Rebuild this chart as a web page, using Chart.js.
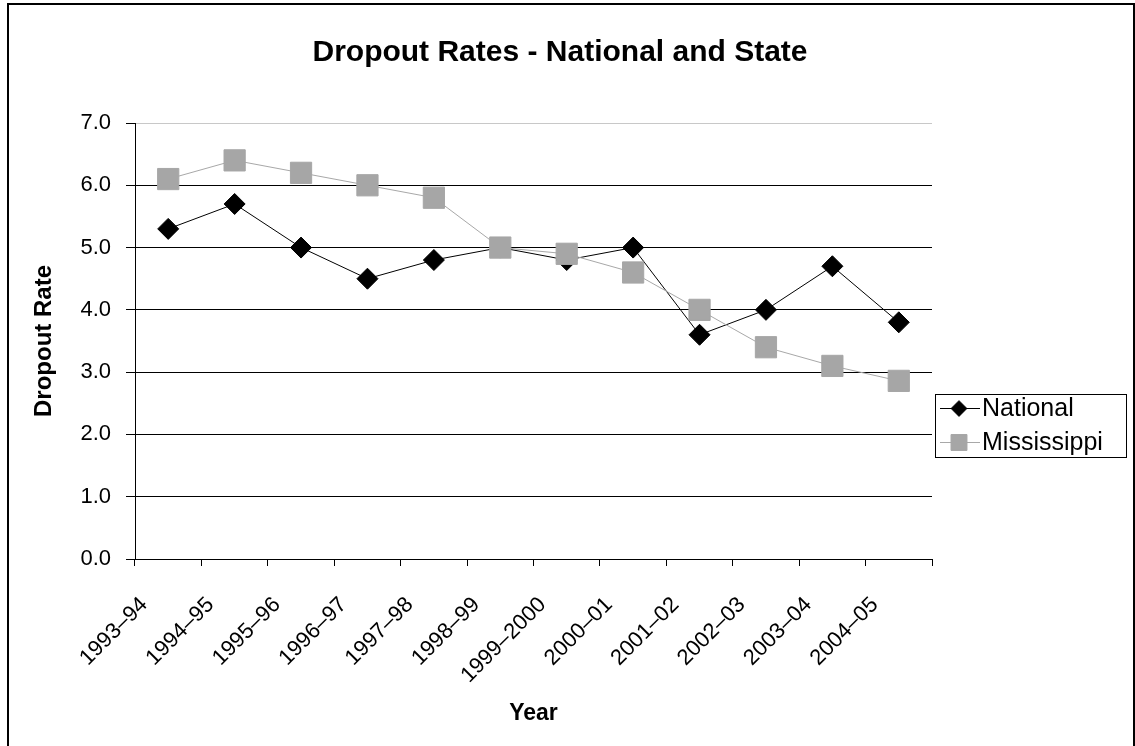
<!DOCTYPE html>
<html>
<head>
<meta charset="utf-8">
<script src="https://cdn.jsdelivr.net/npm/chart.js@4.4.1/dist/chart.umd.min.js"></script>
<style>
  html, body { margin: 0; padding: 0; background: #fff; }
  #wrap { width: 1135px; height: 746px; position: relative; }
</style>
</head>
<body>
<div id="wrap"><canvas id="c" width="1135" height="746"></canvas></div>
<script>
const categories = ['1993–94', '1994–95', '1995–96', '1996–97', '1997–98', '1998–99',
                    '1999–2000', '2000–01', '2001–02', '2002–03', '2003–04', '2004–05'];
const nationalRates    = [5.3, 5.7, 5.0, 4.5, 4.8, 5.0, 4.8, 5.0, 3.6, 4.0, 4.7, 3.8];
const mississippiRates = [6.1, 6.4, 6.2, 6.0, 5.8, 5.0, 4.9, 4.6, 4.0, 3.4, 3.1, 2.86];
const yTickValues = [0, 1, 2, 3, 4, 5, 6, 7];
const seriesNames = ['National', 'Mississippi'];
const chartTitle = 'Dropout Rates - National and State';
const xTitle = 'Year';
const yTitle = 'Dropout Rate';

const FONT = "'Liberation Sans', Arial, sans-serif";
const CA = { left: 135, right: 932, top: 123, bottom: 559 };
const PAD_LEFT = 30;
const PAD_BOTTOM = 19;

const framePlugin = {
  id: 'frame',
  beforeDraw(chart) {
    const ctx = chart.ctx;
    ctx.save();
    ctx.fillStyle = '#fff';
    ctx.fillRect(0, 0, chart.width, chart.height);
    ctx.strokeStyle = '#000';
    ctx.lineWidth = 2;
    ctx.beginPath();
    ctx.moveTo(8, 746);
    ctx.lineTo(8, 4);
    ctx.lineTo(1134, 4);
    ctx.lineTo(1134, 746);
    ctx.stroke();
    ctx.fillStyle = '#000';
    ctx.font = 'bold 30px ' + FONT;
    ctx.textAlign = 'center';
    ctx.textBaseline = 'middle';
    ctx.fillText(chartTitle, 560, 53);
    ctx.restore();
  }
};

const legendPlugin = {
  id: 'customLegend',
  afterDraw(chart) {
    const ctx = chart.ctx;
    const box = { x: 935.5, y: 394.5, w: 191, h: 63 };
    ctx.save();
    ctx.fillStyle = '#fff';
    ctx.fillRect(box.x, box.y, box.w, box.h);
    ctx.strokeStyle = '#000';
    ctx.lineWidth = 1;
    ctx.strokeRect(box.x, box.y, box.w, box.h);
    ctx.font = '25px ' + FONT;
    ctx.textBaseline = 'middle';
    ctx.textAlign = 'left';
    chart.data.datasets.forEach((ds, i) => {
      const cy = box.y + 14 + i * 34;
      ctx.strokeStyle = ds.borderColor;
      ctx.lineWidth = 1;
      ctx.beginPath();
      ctx.moveTo(940, cy);
      ctx.lineTo(980, cy);
      ctx.stroke();
      ctx.fillStyle = ds.pointBackgroundColor;
      ctx.strokeStyle = ds.pointBorderColor;
      Chart.helpers.drawPoint(ctx, {
        pointStyle: ds.pointStyle,
        radius: ds.pointRadius * 0.75,
        rotation: 0,
        borderWidth: 1
      }, 959, cy);
      ctx.fillStyle = '#000';
      ctx.fillText(ds.label, 982, cy + 1);
    });
    ctx.restore();
  }
};

new Chart(document.getElementById('c'), {
  type: 'line',
  data: {
    labels: categories,
    datasets: [
      {
        label: seriesNames[0],
        data: nationalRates,
        borderColor: '#000',
        borderWidth: 1,
        pointStyle: 'rectRot',
        pointRadius: 10.5,
        pointBackgroundColor: '#000',
        pointBorderColor: '#000',
        pointBorderWidth: 1,
        tension: 0,
        order: 1
      },
      {
        label: seriesNames[1],
        data: mississippiRates,
        borderColor: '#a8a8a8',
        borderWidth: 1,
        pointStyle: 'rect',
        pointRadius: 15,
        pointBackgroundColor: '#a6a6a6',
        pointBorderColor: '#a6a6a6',
        pointBorderWidth: 1,
        tension: 0,
        order: 0
      }
    ]
  },
  options: {
    responsive: false,
    animation: false,
    devicePixelRatio: 1,
    layout: { padding: { left: PAD_LEFT, right: 1135 - CA.right, top: CA.top, bottom: PAD_BOTTOM } },
    plugins: {
      legend: { display: false },
      tooltip: { enabled: false },
      title: { display: false }
    },
    scales: {
      x: {
        type: 'category',
        offset: true,
        grid: {
          offset: true,
          drawOnChartArea: false,
          drawTicks: true,
          tickLength: 7,
          tickColor: '#000',
          color: '#000'
        },
        border: { display: true, color: '#000', width: 1 },
        ticks: {
          color: '#000',
          font: { family: FONT, size: 22 },
          maxRotation: 45,
          minRotation: 45,
          autoSkip: false,
          labelOffset: -24,
          padding: 26
        },
        title: {
          display: true,
          text: xTitle,
          color: '#000',
          font: { family: FONT, size: 23, weight: 'bold' },
          padding: 0
        },
        afterFit(scale) { scale.height = 746 - PAD_BOTTOM - CA.bottom; }
      },
      y: {
        min: 0,
        max: 7,
        afterBuildTicks(scale) { scale.ticks = yTickValues.map(v => ({ value: v })); },
        grid: {
          color: (c) => (c.tick && c.tick.value === 7 ? '#c8c8c8' : '#000'),
          lineWidth: 1,
          drawTicks: true,
          tickLength: 9,
          tickColor: '#000'
        },
        border: { display: true, color: '#000', width: 1 },
        ticks: {
          color: '#000',
          font: { family: FONT, size: 22 },
          padding: 15,
          callback: (v) => Number(v).toFixed(1)
        },
        title: {
          display: true,
          text: yTitle,
          color: '#000',
          font: { family: FONT, size: 24, weight: 'bold' },
          padding: 0
        },
        afterFit(scale) { scale.width = CA.left - PAD_LEFT; }
      }
    }
  },
  plugins: [framePlugin, legendPlugin]
});
</script>
</body>
</html>
